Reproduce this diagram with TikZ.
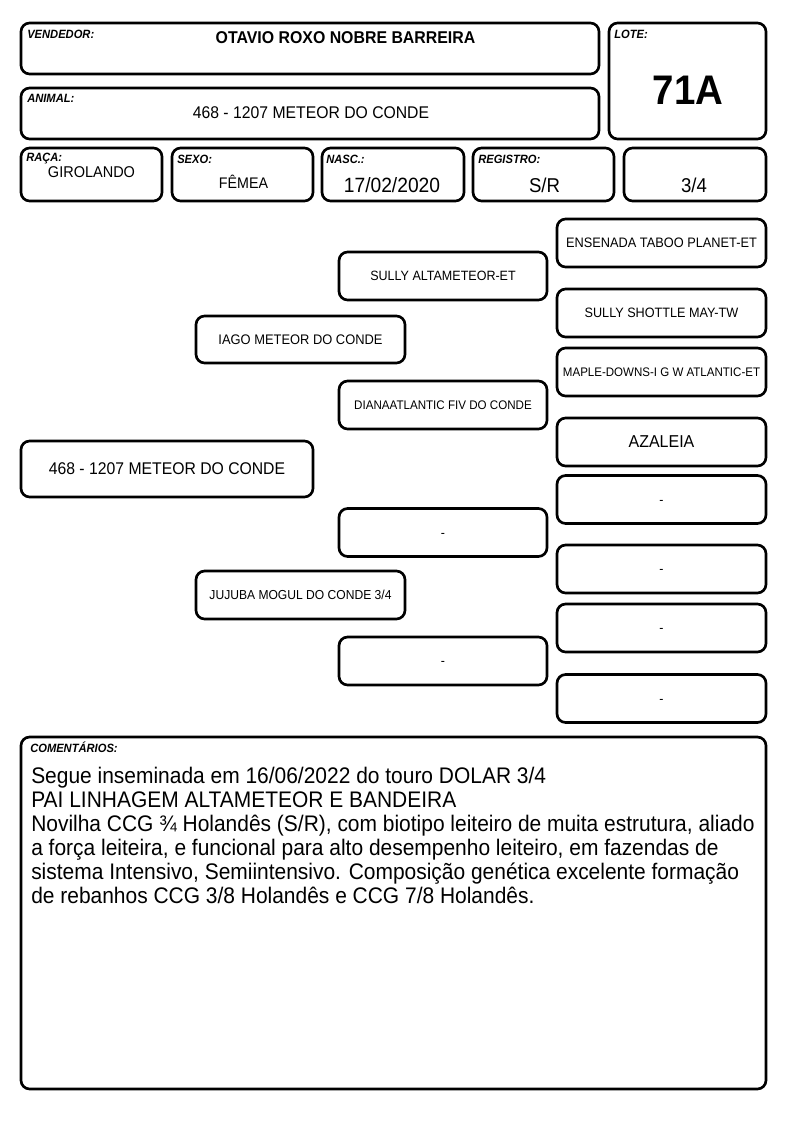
\documentclass[tikz,border=0pt]{standalone}
\usepackage{fontspec}
\setmainfont{Liberation Sans}[FakeStretch=0.93]
\newcommand\fsz[2]{\fontsize{#1}{#2}\selectfont}
\tikzset{
  box/.style={draw, line width=2pt, rounded corners=6.5pt, inner sep=0pt, align=center},
  sz/.style 2 args={minimum width={#1*0.75pt}, minimum height={#2*0.75pt}},
  lbl/.style={font=\fsz{9}{10}\bfseries\itshape, anchor=base west, inner sep=0pt},
  val/.style={anchor=base, inner sep=0pt},
  g2/.style={box, sz={208}{48}},
  g3/.style={box, sz={209}{48}},
}
\begin{document}
\begin{tikzpicture}[x=0.75pt,y=-0.75pt]
\useasboundingbox[fill=white] (0,0) rectangle (794,1123);
% header boxes
\node[box, sz={578}{51}] (vend) at (310,48.5) {};
\node[box, sz={578}{51}] (anim) at (310,113.5) {};
\node[box, sz={157}{116}] (lote) at (687.5,81) {};
\node[box, sz={141}{53}] (raca) at (91.5,174.5) {};
\node[box, sz={141}{53}] (sexo) at (242.5,174.5) {};
\node[box, sz={142}{53}] (nasc) at (393,174.5) {};
\node[box, sz={141}{53}] (reg) at (543.5,174.5) {};
\node[box, sz={142}{53}] (frac) at (695,174.5) {};
% labels
\node[lbl] (vendL) at (27,39) {VENDEDOR:};
\node[lbl] (animL) at (27,103) {ANIMAL:};
\node[lbl] (loteL) at (614,39) {LOTE:};
\node[lbl] (racaL) at (26,162) {RAÇA:};
\node[lbl] (sexoL) at (177,164) {SEXO:};
\node[lbl] (nascL) at (326,164) {NASC.:};
\node[lbl] (regL) at (478,164) {REGISTRO:};
% values
\node[val, font=\fsz{12.8}{15}\bfseries] (vendV) at (345.5,44) {OTAVIO ROXO NOBRE BARREIRA};
\node[val, font=\fsz{12.7}{15}] (animV) at (311,119) {468 - 1207 METEOR DO CONDE};
\node[val, font=\fsz{31}{36}\bfseries] (loteV) at (688,105) {71A};
\node[val, font=\fsz{11.7}{14}] (racaV) at (91.5,177.5) {GIROLANDO};
\node[val, font=\fsz{11.5}{14}] (sexoV) at (243.5,189) {FÊMEA};
\node[val, font=\fsz{15.5}{18}] (nascV) at (392,192.5) {17/02/2020};
\node[val, font=\fsz{15}{18}] (regV) at (544.5,192.5) {S/R};
\node[val, font=\fsz{15}{18}] (fracV) at (694,192.5) {3/4};
% pedigree
\node[box, sz={292}{56}, font=\fsz{12.7}{15}] (p0) at (167,469) {468 - 1207 METEOR DO CONDE};
\node[box, sz={209}{47}, font=\fsz{10.4}{12}] (p1) at (300.5,339.5) {IAGO METEOR DO CONDE};
\node[box, sz={209}{48}, font=\fsz{9.75}{12}] (p2) at (300.5,595) {JUJUBA MOGUL DO CONDE 3/4};
\node[g2, font=\fsz{10.1}{12}] (p11) at (443,276) {SULLY ALTAMETEOR-ET};
\node[g2, font=\fsz{9.35}{12}] (p12) at (443,405) {DIANAATLANTIC FIV DO CONDE};
\node[g2, font=\fsz{10}{12}] (p21) at (443,532.5) {\vphantom{A}-};
\node[g2, font=\fsz{10}{12}] (p22) at (443,661) {\vphantom{A}-};
\node[g3, font=\fsz{10.3}{12}] (p111) at (661.5,243) {ENSENADA TABOO PLANET-ET};
\node[g3, font=\fsz{10.2}{12}] (p112) at (661.5,313) {SULLY SHOTTLE MAY-TW};
\node[g3, font=\fsz{9.3}{12}] (p121) at (661.5,372) {MAPLE-DOWNS-I G W ATLANTIC-ET};
\node[g3, font=\fsz{12.9}{15}] (p122) at (661.5,442) {AZALEIA};
\node[g3, font=\fsz{10}{12}] (p211) at (661.5,499.5) {\vphantom{A}-};
\node[g3, font=\fsz{10}{12}] (p212) at (661.5,569) {\vphantom{A}-};
\node[g3, font=\fsz{10}{12}] (p221) at (661.5,628) {\vphantom{A}-};
\node[g3, font=\fsz{10}{12}] (p222) at (661.5,698.5) {\vphantom{A}-};
% comments
\node[box, sz={745}{352}] (com) at (393.5,913) {};
\node[lbl] (comL) at (30,752) {COMENTÁRIOS:};
\node[anchor=north west, inner sep=0pt, align=left, font=\fsz{16.9}{18}] (comT) at (31,767) {Segue inseminada em 16/06/2022 do touro DOLAR 3/4\\
PAI LINHAGEM ALTAMETEOR E BANDEIRA\\
Novilha CCG ¾ Holandês (S/R), com biotipo leiteiro de muita estrutura, aliado\\
a força leiteira, e funcional para alto desempenho leiteiro, em fazendas de\\
sistema Intensivo, Semiintensivo. Composição genética excelente formação\\
de rebanhos CCG 3/8 Holandês e CCG 7/8 Holandês.};
\end{tikzpicture}
\end{document}
